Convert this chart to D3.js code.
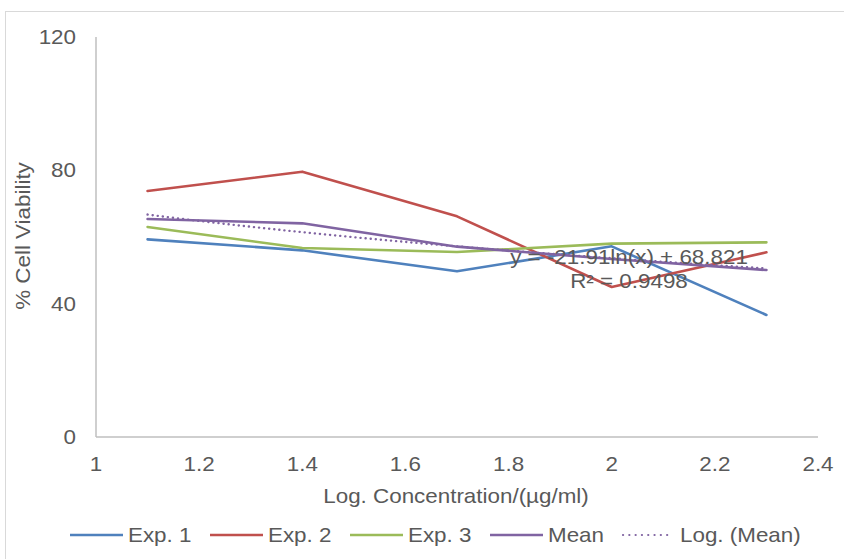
<!DOCTYPE html>
<html>
<head>
<meta charset="utf-8">
<script src="https://cdn.jsdelivr.net/npm/d3@7/dist/d3.min.js"></script>
<style>
html,body{margin:0;padding:0;background:#fff;}
svg text{font-family:"Liberation Sans",Arial,sans-serif;fill:#595959;}
</style>
</head>
<body>
<svg id="chart" width="844" height="559"></svg>
<script>
const concentrations = [1.1, 1.4, 1.7, 2.0, 2.3];
const exp1 = [59.3, 56.0, 49.7, 57.2, 36.6];
const exp2 = [73.8, 79.6, 66.2, 45.0, 55.4];
const exp3 = [63.0, 56.7, 55.5, 58.0, 58.4];
const meanVals = [65.4, 64.1, 57.1, 53.4, 50.1];
const trendCoef = {a: -21.91, b: 68.821};
const xTicks = [1, 1.2, 1.4, 1.6, 1.8, 2, 2.2, 2.4];
const yTicks = [0, 40, 80, 120];
const seriesNames = ["Exp. 1", "Exp. 2", "Exp. 3", "Mean", "Log. (Mean)"];
const colors = ["#4F81BD", "#C0504D", "#9BBB59", "#8064A2", "#8064A2"];

const FS = 20, SX = 1.12;
const svg = d3.select("#chart");
function txt(xp, yp, s, anchor, rot){
  return svg.append("text")
    .attr("transform", `translate(${xp},${yp})` + (rot ? ` rotate(${rot})` : "") + ` scale(${SX},1)`)
    .attr("text-anchor", anchor).attr("font-size", FS).text(s);
}

svg.append("rect").attr("x",5.5).attr("y",11.5).attr("width",850).attr("height",560)
  .attr("fill","none").attr("stroke","#d9d9d9").attr("stroke-width",1);

const x = d3.scaleLinear().domain([1, 2.4]).range([96, 818]);
const y = d3.scaleLinear().domain([0, 120]).range([437, 37]);

svg.append("line").attr("x1",x(1)).attr("x2",x(1)).attr("y1",y(120)).attr("y2",y(0))
  .attr("stroke","#bfbfbf").attr("stroke-width",1.5);
svg.append("line").attr("x1",x(1)).attr("x2",x(2.4)).attr("y1",y(0)).attr("y2",y(0))
  .attr("stroke","#bfbfbf").attr("stroke-width",1.5);

xTicks.forEach(d => txt(x(d), 471, d3.format("")(d), "middle"));
yTicks.forEach(d => txt(76, y(d)+7, d, "end"));

txt(456, 503, "Log. Concentration/(µg/ml)", "middle");
txt(30, 236, "% Cell Viability", "middle", -90);

const line = d3.line().x(d=>x(d[0])).y(d=>y(d[1]));
[exp1, exp2, exp3, meanVals].forEach((s,i)=>{
  svg.append("path").attr("d", line(concentrations.map((c,j)=>[c,s[j]])))
    .attr("fill","none").attr("stroke",colors[i]).attr("stroke-width",2.6)
    .attr("stroke-linejoin","round").attr("stroke-linecap","round");
});

// logarithmic trendline from the displayed coefficients
const tx = d3.range(0, 101).map(k => 1.1 + (2.3-1.1)*k/100);
svg.append("path").attr("d", line(tx.map(v=>[v, trendCoef.a*Math.log(v)+trendCoef.b])))
  .attr("fill","none").attr("stroke",colors[4]).attr("stroke-width",2.4)
  .attr("stroke-dasharray","0.1 5").attr("stroke-linecap","round");

txt(629, 264, "y = -21.91ln(x) + 68.821", "middle");
txt(629, 288, "R² = 0.9498", "middle");

// legend
const legX = [70, 210, 350, 490, 622];
seriesNames.forEach((n,i)=>{
  const l = svg.append("line").attr("x1",legX[i]).attr("x2",legX[i]+53).attr("y1",535).attr("y2",535)
    .attr("stroke",colors[i]).attr("stroke-width", i===4?2.2:2.6);
  if(i===4) l.attr("stroke-dasharray","0.1 6.2").attr("stroke-linecap","round").attr("x1",legX[i]+1).attr("x2",legX[i]+51);
  txt(legX[i]+(i===4?58:58), 542, n, "start");
});
</script>
</body>
</html>
